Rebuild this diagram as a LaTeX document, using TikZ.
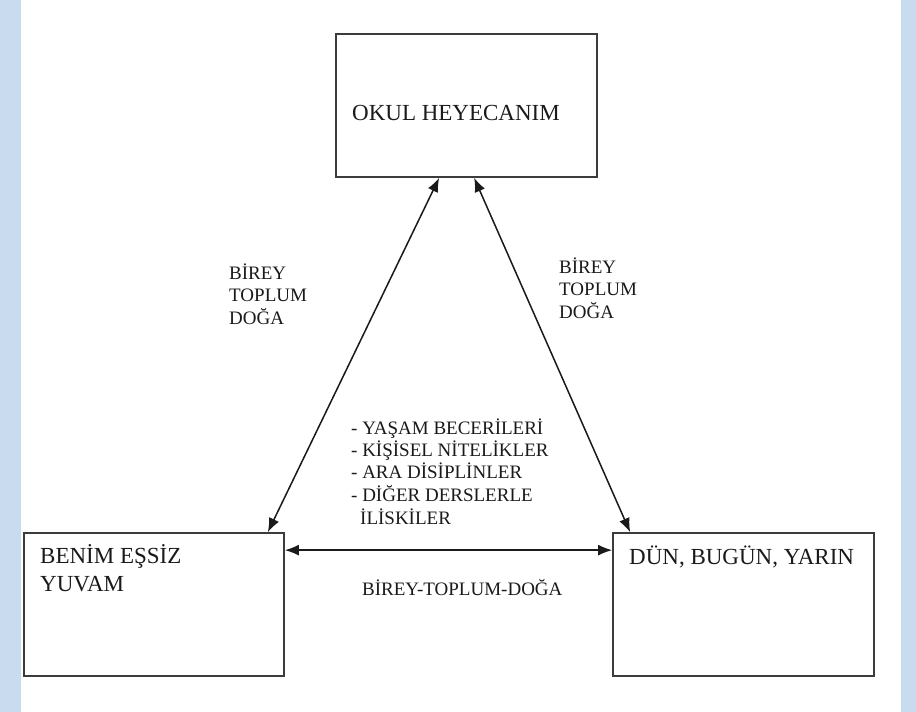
\documentclass[tikz,border=0pt]{standalone}
\usepackage{fontspec}
\setmainfont{Liberation Serif}
\usetikzlibrary{arrows.meta}
\definecolor{bgblue}{HTML}{C9DCEF}
\definecolor{ink}{HTML}{1A1A1A}
\begin{document}
\begin{tikzpicture}[x=1pt,y=-1pt,
  box/.style={draw=ink!85, line width=1.7pt, rectangle, inner sep=0pt, fill=white},
  big/.style={font=\fontsize{23}{28}\selectfont, text=ink, inner sep=0pt, anchor=base west},
  small/.style={font=\fontsize{19}{22}\selectfont, text=ink, inner sep=0pt, anchor=base west},
  link/.style={draw=ink, line width=1.5pt, {Latex[length=14pt,width=11pt]}-{Latex[length=14pt,width=11pt]}}]
\useasboundingbox (0,0) rectangle (916,712);
\fill[bgblue] (0,0) rectangle (916,712);
\fill[white] (21,0) rectangle (901,712);

% boxes
\node[box, minimum width=261pt, minimum height=143pt] (top) at (466.5,105.5) {};
\node[box, minimum width=260pt, minimum height=143pt] (left) at (154,604.5) {};
\node[box, minimum width=261pt, minimum height=143pt] (right) at (743.5,604.5) {};

% box texts
\node[big] (tt) at (352,120) {OKUL HEYECANIM};
\node[big] (lt1) at (40,563) {BENİM EŞSİZ};
\node[big] (lt2) at (40,591) {YUVAM};
\node[big] (rt) at (629,564) {DÜN, BUGÜN, YARIN};

% connector end points
\coordinate (ta) at ([xshift=104pt]top.south west);
\coordinate (tb) at ([xshift=139pt]top.south west);
\coordinate (la) at ([xshift=-17pt]left.north east);
\coordinate (ra) at ([xshift=18pt]right.north west);
\coordinate (lh) at ([yshift=-18pt]left.north east);
\coordinate (rh) at ([yshift=-18pt]right.north west);

\draw[link] (ta) -- (la);
\draw[link] (tb) -- (ra);
\draw[link] (lh) -- (rh);

% labels left
\node[small] (l1) at (229,279) {BİREY};
\node[small] (l2) at (229,301.5) {TOPLUM};
\node[small] (l3) at (229,324) {DOĞA};
% labels right
\node[small] (r1) at (559,273) {BİREY};
\node[small] (r2) at (559,295.5) {TOPLUM};
\node[small] (r3) at (559,318) {DOĞA};
% centre list
\node[small] (c1) at (351,434) {- YAŞAM BECERİLERİ};
\node[small] (c2) at (351,456) {- KİŞİSEL NİTELİKLER};
\node[small] (c3) at (351,478) {- ARA DİSİPLİNLER};
\node[small] (c4) at (351,501) {- DİĞER DERSLERLE};
\node[small] (c5) at (360,524) {İLİSKİLER};
% bottom label
\node[small] (bl) at (362,595) {BİREY-TOPLUM-DOĞA};
\end{tikzpicture}
\end{document}
